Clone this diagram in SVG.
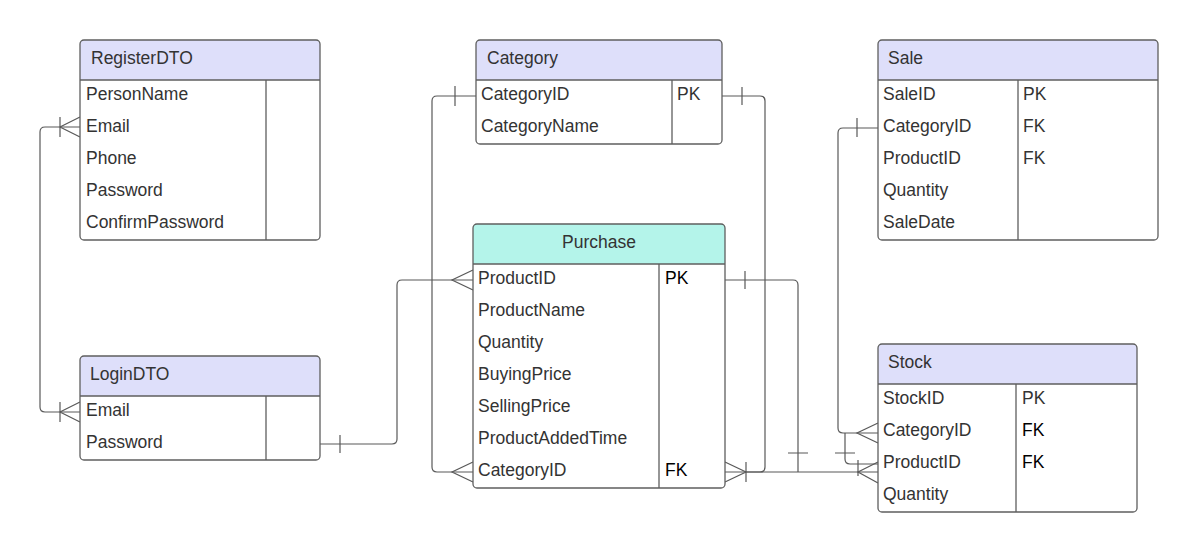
<svg xmlns="http://www.w3.org/2000/svg" width="1199" height="552" viewBox="0 0 1199 552">
<style>
.box{fill:none;stroke:#5f5f5f;stroke-width:1.3}
.bg{fill:#ffffff}
.hdr{fill:#dedffa}
.hdr2{fill:#b4f4ea}
.ln{stroke:#5f5f5f;stroke-width:1.3}
.t{font-family:"Liberation Sans",Arial,sans-serif;font-size:17.5px;fill:#333333}
.ti{font-family:"Liberation Sans",Arial,sans-serif;font-size:17.5px;fill:#333333}
.k{fill:#000000}
.c{fill:none;stroke:#595959;stroke-width:1.2}
</style>
<rect width="1199" height="552" fill="#ffffff"/>
<g id="connectors" class="c">
  <path d="M80,127 H45 Q40,127 40,132 V407 Q40,412 45,412 H80"/>
  <path d="M80,117 L60,127 L80,137 M60,117 V137"/>
  <path d="M80,402 L60,412 L80,422 M60,402 V422"/>
  <path d="M320,444 H392 Q397,444 397,439 V285 Q397,280 402,280 H473"/>
  <path d="M340,435 V453 M473,270 L452,280 L473,290"/>
  <path d="M476,96 H437 Q432,96 432,101 V467 Q432,472 437,472 H473"/>
  <path d="M455,86 V106 M473,462 L452,472 L473,482"/>
  <path d="M722,96 H760 Q765,96 765,101 V467 Q765,472 760,472 H725"/>
  <path d="M742,87 V105 M725,462 L746,472 L725,482 M746,462 V482"/>
  <path d="M725,280 H793 Q798,280 798,285 V472"/>
  <path d="M745,271 V289 M788,453 H808"/>
  <path d="M746,472 H878"/>
  <path d="M878,462 L858,472 L878,483"/>
  <path d="M878,128 H843 Q838,128 838,133 V428 Q838,433 843,433 H878"/>
  <path d="M857,118 V137 M878,423 L857,433 L878,443"/>
  <path d="M845,433 V459 Q845,464 850,464 H878"/>
  <path d="M835,453 H855 M858,460 V476"/>
</g>
<g id="RegisterDTO">
  <rect class="bg" x="80" y="40" width="240" height="200" rx="4"/>
  <path class="hdr" d="M80,80 V44 Q80,40 84,40 H316 Q320,40 320,44 V80 Z"/>
  <rect class="box" x="80" y="40" width="240" height="200" rx="4"/>
  <path class="ln" d="M80,80 H320 M266,80 V240"/>
  <text class="ti" x="91" y="64">RegisterDTO</text>
  <text class="t" x="86" y="100">PersonName</text>
  <text class="t" x="86" y="132">Email</text>
  <text class="t" x="86" y="164">Phone</text>
  <text class="t" x="86" y="196">Password</text>
  <text class="t" x="86" y="228">ConfirmPassword</text>
</g>
<g id="LoginDTO">
  <rect class="bg" x="80" y="356" width="240" height="104" rx="4"/>
  <path class="hdr" d="M80,396 V360 Q80,356 84,356 H316 Q320,356 320,360 V396 Z"/>
  <rect class="box" x="80" y="356" width="240" height="104" rx="4"/>
  <path class="ln" d="M80,396 H320 M266,396 V460"/>
  <text class="ti" x="90" y="380">LoginDTO</text>
  <text class="t" x="86" y="416">Email</text>
  <text class="t" x="86" y="448">Password</text>
</g>
<g id="Category">
  <rect class="bg" x="476" y="40" width="246" height="104" rx="4"/>
  <path class="hdr" d="M476,80 V44 Q476,40 480,40 H718 Q722,40 722,44 V80 Z"/>
  <rect class="box" x="476" y="40" width="246" height="104" rx="4"/>
  <path class="ln" d="M476,80 H722 M672,80 V144"/>
  <text class="ti" x="487" y="64">Category</text>
  <text class="t" x="481" y="100">CategoryID</text>
  <text class="t" x="481" y="132">CategoryName</text>
  <text class="t" x="677" y="100">PK</text>
</g>
<g id="Purchase">
  <rect class="bg" x="473" y="224" width="252" height="264" rx="4"/>
  <path class="hdr2" d="M473,264 V228 Q473,224 477,224 H721 Q725,224 725,228 V264 Z"/>
  <rect class="box" x="473" y="224" width="252" height="264" rx="4"/>
  <path class="ln" d="M473,264 H725 M659,264 V488"/>
  <text class="ti" x="599" y="248" text-anchor="middle">Purchase</text>
  <text class="t" x="478" y="284">ProductID</text>
  <text class="t" x="478" y="316">ProductName</text>
  <text class="t" x="478" y="348">Quantity</text>
  <text class="t" x="478" y="380">BuyingPrice</text>
  <text class="t" x="478" y="412">SellingPrice</text>
  <text class="t" x="478" y="444">ProductAddedTime</text>
  <text class="t" x="478" y="476">CategoryID</text>
  <text class="t k" x="665" y="284">PK</text>
  <text class="t k" x="665" y="476">FK</text>
</g>
<g id="Sale">
  <rect class="bg" x="878" y="40" width="280" height="200" rx="4"/>
  <path class="hdr" d="M878,80 V44 Q878,40 882,40 H1154 Q1158,40 1158,44 V80 Z"/>
  <rect class="box" x="878" y="40" width="280" height="200" rx="4"/>
  <path class="ln" d="M878,80 H1158 M1018,80 V240"/>
  <text class="ti" x="888" y="64">Sale</text>
  <text class="t" x="883" y="100">SaleID</text>
  <text class="t" x="883" y="132">CategoryID</text>
  <text class="t" x="883" y="164">ProductID</text>
  <text class="t" x="883" y="196">Quantity</text>
  <text class="t" x="883" y="228">SaleDate</text>
  <text class="t" x="1023" y="100">PK</text>
  <text class="t" x="1023" y="132">FK</text>
  <text class="t" x="1023" y="164">FK</text>
</g>
<g id="Stock">
  <rect class="bg" x="878" y="344" width="259" height="168" rx="4"/>
  <path class="hdr" d="M878,384 V348 Q878,344 882,344 H1133 Q1137,344 1137,348 V384 Z"/>
  <rect class="box" x="878" y="344" width="259" height="168" rx="4"/>
  <path class="ln" d="M878,384 H1137 M1016,384 V512"/>
  <text class="ti" x="888" y="368">Stock</text>
  <text class="t" x="883" y="404">StockID</text>
  <text class="t" x="883" y="436">CategoryID</text>
  <text class="t" x="883" y="468">ProductID</text>
  <text class="t" x="883" y="500">Quantity</text>
  <text class="t" x="1022" y="404">PK</text>
  <text class="t k" x="1022" y="436">FK</text>
  <text class="t k" x="1022" y="468">FK</text>
</g>
</svg>
